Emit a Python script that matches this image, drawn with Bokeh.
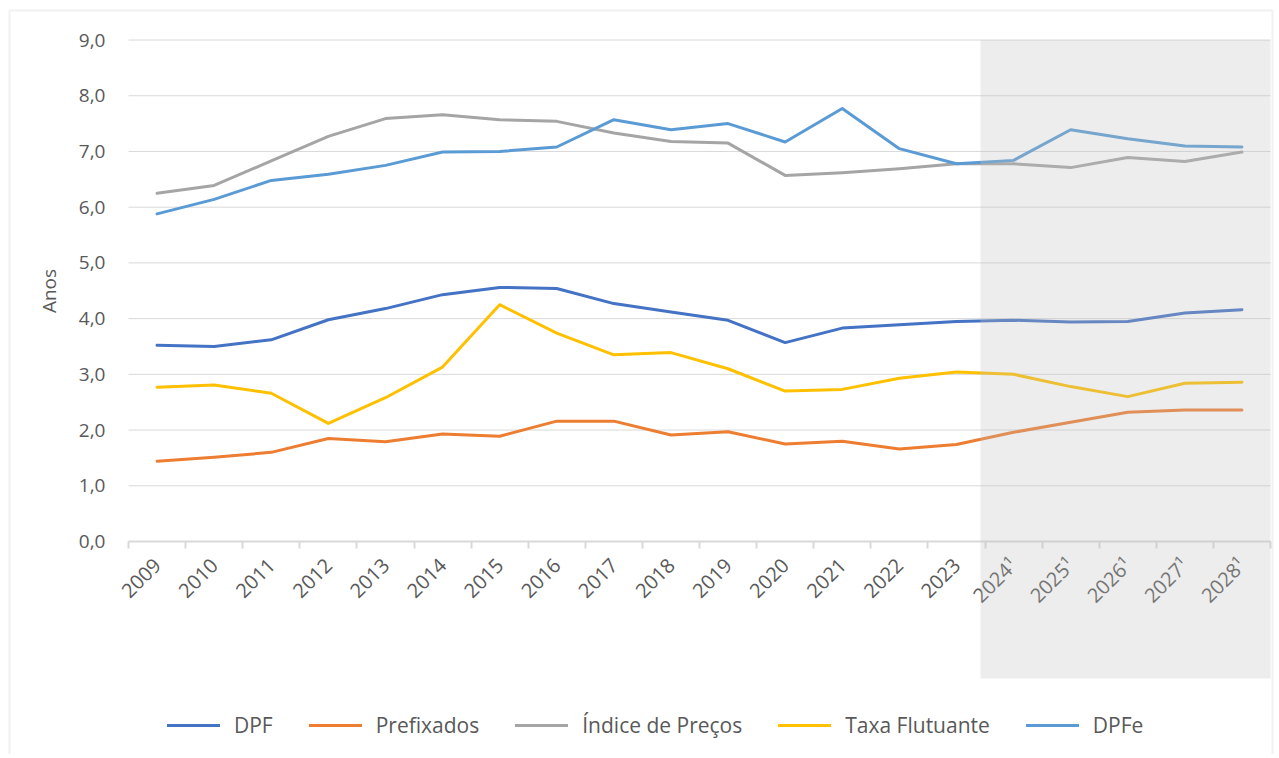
import math
from bokeh.plotting import figure
from bokeh.models import Range1d, FixedTicker, BoxAnnotation, Legend, LegendItem
from bokeh.embed import file_html
from bokeh.resources import INLINE

years = ["2009", "2010", "2011", "2012", "2013", "2014", "2015", "2016", "2017", "2018",
         "2019", "2020", "2021", "2022", "2023", "2024¹", "2025¹", "2026¹", "2027¹", "2028¹"]

dpf = [3.52, 3.50, 3.62, 3.98, 4.18, 4.43, 4.56, 4.54, 4.27, 4.12,
       3.97, 3.57, 3.83, 3.89, 3.95, 3.97, 3.94, 3.95, 4.10, 4.16]
prefixados = [1.44, 1.51, 1.60, 1.85, 1.79, 1.93, 1.89, 2.16, 2.16, 1.91,
              1.97, 1.75, 1.80, 1.66, 1.74, 1.96, 2.14, 2.32, 2.36, 2.36]
indice_precos = [6.25, 6.39, 6.83, 7.27, 7.59, 7.66, 7.57, 7.54, 7.33, 7.18,
                 7.15, 6.57, 6.62, 6.69, 6.78, 6.78, 6.71, 6.89, 6.82, 6.99]
taxa_flutuante = [2.77, 2.81, 2.66, 2.12, 2.58, 3.13, 4.25, 3.74, 3.35, 3.39,
                  3.10, 2.70, 2.73, 2.93, 3.04, 3.00, 2.78, 2.60, 2.84, 2.86]
dpfe = [5.88, 6.14, 6.48, 6.59, 6.75, 6.99, 7.00, 7.08, 7.57, 7.39,
        7.50, 7.17, 7.77, 7.05, 6.78, 6.84, 7.39, 7.23, 7.10, 7.08]

series_names = ["DPF", "Prefixados", "Índice de Preços", "Taxa Flutuante", "DPFe"]
series_values = [dpf, prefixados, indice_precos, taxa_flutuante, dpfe]
series_colors = ["#4472C4", "#ED7D31", "#A5A5A5", "#FFC000", "#5B9BD5"]

y_ticks = list(range(10))
first_projection = 15  # index of 2024¹

# ---- layout constants (pixels, figure coords) ----
FONT = "Open Sans"
TXT = "#595959"
W, H = 1277, 754
AX_LEFT, AX_RIGHT = 128, 1270     # x-axis extent
ZERO_Y = 541                       # pixel row of value 0
PX = 55.72                         # pixels per unit (y)
CW = (AX_RIGHT - AX_LEFT) / len(years)   # pixels per category

def xp(px):
    return -0.5 + (px - AX_LEFT) / CW

def yp(py):
    return (ZERO_Y - py) / PX

x = list(range(len(years)))

p = figure(width=W, height=H, output_backend="svg", toolbar_location=None,
           x_range=Range1d(xp(0), xp(W)), y_range=Range1d(yp(H), yp(0)),
           min_border_left=0, min_border_right=0, min_border_top=0, min_border_bottom=0)
p.outline_line_color = None
p.background_fill_color = "white"
p.border_fill_color = "white"

# y axis (inside the frame, at the left end of the category axis)
ya = p.yaxis[0]
ya.fixed_location = -0.5
ya.bounds = (0, 9)
ya.ticker = FixedTicker(ticks=y_ticks)
ya.major_label_overrides = {t: f"{t},0" for t in y_ticks}
ya.axis_line_color = None
ya.major_tick_line_color = None
ya.minor_tick_line_color = None
ya.major_label_standoff = 17
ya.major_label_text_font = FONT
ya.major_label_text_font_size = "19px"
ya.major_label_text_color = TXT
ya.axis_label = "Anos"
ya.axis_label_text_font = FONT
ya.axis_label_text_font_size = "19px"
ya.axis_label_text_font_style = "normal"
ya.axis_label_text_color = TXT
ya.axis_label_standoff = 14

# x axis drawn at value 0
xa = p.xaxis[0]
xa.fixed_location = 0
xa.bounds = (-0.5, len(years) - 0.5)
xa.ticker = FixedTicker(ticks=x, minor_ticks=[i - 0.5 for i in range(len(years) + 1)])
xa.major_label_overrides = {i: years[i] for i in x}
xa.axis_line_color = "#d9d9d9"
xa.axis_line_width = 2
xa.major_tick_line_color = None
xa.minor_tick_line_color = "#d9d9d9"
xa.minor_tick_line_width = 2
xa.minor_tick_in = 0
xa.minor_tick_out = 7
xa.major_label_orientation = math.pi / 4
xa.major_label_standoff = 13
xa.major_label_text_font = FONT
xa.major_label_text_font_size = "20px"
xa.major_label_text_color = TXT

p.xgrid.grid_line_color = None
p.ygrid.grid_line_color = None

# horizontal gridlines limited to the category span
p.segment(x0=[-0.5] * len(y_ticks), x1=[len(years) - 0.5] * len(y_ticks),
          y0=y_ticks, y1=y_ticks, line_color="#d9d9d9", line_width=1, level="underlay")

renderers = []
for name, vals, col in zip(series_names, series_values, series_colors):
    r = p.line(x, vals, line_color=col, line_width=3, line_join="round", line_cap="round")
    renderers.append(r)

shade = BoxAnnotation(left=xp(980), right=xp(1270), top=y_ticks[-1], bottom=yp(678),
                      fill_color="#C0C0C0", fill_alpha=0.28, line_color=None)
p.add_layout(shade)

# chart-area border
frame_box = BoxAnnotation(left=xp(9), right=xp(1272), top=yp(10), bottom=yp(H + 20),
                          fill_alpha=0, line_color="#d0d0d0", line_width=2)
p.add_layout(frame_box)

legend = Legend(items=[LegendItem(label=n, renderers=[r]) for n, r in zip(series_names, renderers)],
                orientation="horizontal", location=(167, H - 739),
                glyph_width=53, glyph_height=20, label_height=20,
                label_standoff=14, spacing=36, padding=0, margin=0,
                label_text_font=FONT, label_text_font_size="21px", label_text_color=TXT,
                border_line_color=None, background_fill_alpha=0)
p.add_layout(legend)

open("out.html", "w").write(file_html(p, INLINE))
